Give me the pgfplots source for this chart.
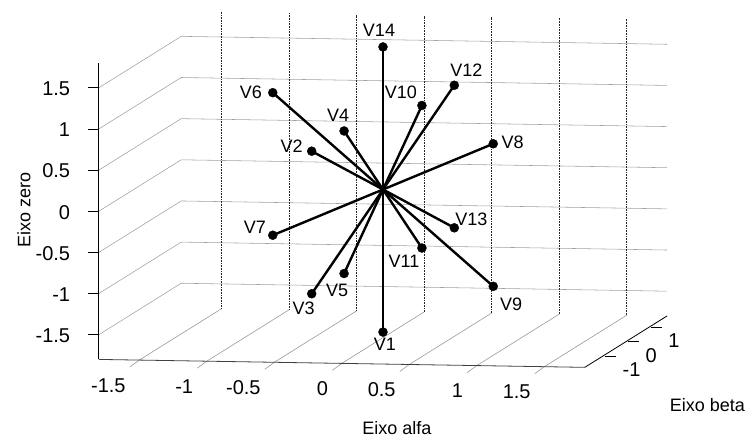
\documentclass[border=0pt]{standalone}
\usepackage{fontspec}
\setmainfont{Liberation Sans}
\usepackage{pgfplots}
\pgfplotsset{compat=1.18}
\tikzset{lab/.style={font=\fontsize{18}{22}\selectfont, inner sep=0pt}, ztk/.style={black, line width=0.8pt}}
\pgfplotsset{vec/.style={black, line width=2.4pt, mark=*, mark indices={2}, mark size=4.5pt, mark options={solid, line width=0.4pt, fill=black}}}
\begin{document}
\begin{tikzpicture}
\begin{axis}[
  x={(135pt,-2.2pt)}, y={(22.9pt,14.3pt)}, z={(0pt,82.3pt)},
  xmin=-1.8,xmax=1.8,ymin=-1.8,ymax=1.8,zmin=-1.8,zmax=1.8,
  xtick={-1.5,-1,-0.5,0,0.5,1,1.5},
  ytick={-1,0,1},
  ztick={-1.5,-1,-0.5,0,0.5,1,1.5},
  /pgf/number format/assume math mode=true,
  ticklabel style={font=\fontsize{20}{24}\selectfont},
  axis line style={draw=none},
  zmajorgrids,
  z grid style={gray!75, line width=0.55pt},
  tick style={draw=none},
  tick align=outside,
  major tick length=12pt,
  clip=false,
  xticklabel style={anchor=east, xshift=0pt, yshift=-19pt},
  yticklabel style={anchor=west, xshift=4pt, yshift=-13.5pt},
  zticklabel style={anchor=east, xshift=-15pt, yshift=5.5pt},
]
\coordinate (O) at (axis cs:0,0,0);
\pgfplotsinvokeforeach{-1.5,-1,-0.5,0,0.5,1,1.5}{
  \draw[gray!80, line width=0.6pt] (axis cs:#1,1.8,-1.8) -- (axis cs:#1,-1.8,-1.8) -- ++(-9.5pt,-7pt);
  \draw[black!85, dash pattern=on 0.8pt off 0.8pt, line width=0.6pt] (axis cs:#1,1.8,-1.8) -- (axis cs:#1,1.8,1.8);
}
\pgfplotsinvokeforeach{-1,0,1}{
  \draw[black, line width=0.8pt] (axis cs:1.8,#1,-1.8) ++(2pt,0pt) -- ++(11pt,0pt);
}
\draw[black, line width=0.8pt] (axis cs:-1.8,-1.8,-1.8) -- (axis cs:-1.8,-1.8,1.8);
\draw[black!75, line width=0.8pt] (axis cs:-1.8,-1.8,-1.8) -- (axis cs:1.8,-1.8,-1.8);
\draw[black, line width=0.8pt] (axis cs:1.8,-1.8,-1.8) -- (axis cs:1.8,1.8,-1.8);

\addplot3[vec] coordinates {(0,0,0) (0,0,-1.7321)} node[lab, pos=1, xshift=2pt, yshift=-12pt]{V1};
\addplot3[vec] coordinates {(0,0,0) (-0.4082,-0.7071,0.5774)} node[lab, pos=1, xshift=-20pt, yshift=5pt]{V2};
\addplot3[vec] coordinates {(0,0,0) (-0.4082,-0.7071,-1.1547)} node[lab, pos=1, xshift=-8pt, yshift=-15pt]{V3};
\addplot3[vec] coordinates {(0,0,0) (-0.4082,0.7071,0.5774)} node[lab, pos=1, xshift=-6pt, yshift=16pt]{V4};
\addplot3[vec] coordinates {(0,0,0) (-0.4082,0.7071,-1.1547)} node[lab, pos=1, xshift=-7pt, yshift=-17pt]{V5};
\addplot3[vec] coordinates {(0,0,0) (-0.8165,0,1.1547)} node[lab, pos=1, xshift=-22pt, yshift=0pt]{V6};
\addplot3[vec] coordinates {(0,0,0) (-0.8165,0,-0.5774)} node[lab, pos=1, xshift=-18pt, yshift=8pt]{V7};
\addplot3[vec] coordinates {(0,0,0) (0.8165,0,0.5774)} node[lab, pos=1, xshift=19.5pt, yshift=1.5pt]{V8};
\addplot3[vec] coordinates {(0,0,0) (0.8165,0,-1.1547)} node[lab, pos=1, xshift=18pt, yshift=-18pt]{V9};
\addplot3[vec] coordinates {(0,0,0) (0.4082,-0.7071,1.1547)} node[lab, pos=1, xshift=-21pt, yshift=13pt]{V10};
\addplot3[vec] coordinates {(0,0,0) (0.4082,-0.7071,-0.5774)} node[lab, pos=1, xshift=-18pt, yshift=-13pt]{V11};
\addplot3[vec] coordinates {(0,0,0) (0.4082,0.7071,1.1547)} node[lab, pos=1, xshift=12pt, yshift=15pt]{V12};
\addplot3[vec] coordinates {(0,0,0) (0.4082,0.7071,-0.5774)} node[lab, pos=1, xshift=17pt, yshift=9pt]{V13};
\addplot3[vec] coordinates {(0,0,0) (0,0,1.7321)} node[lab, pos=1, xshift=-4pt, yshift=17pt]{V14};
\end{axis}
\draw[ztk] ([shift={(-284.2pt,101.65pt)}]O) -- ++(-11pt,0pt);
\draw[ztk] ([shift={(-284.2pt,60.5pt)}]O) -- ++(-11pt,0pt);
\draw[ztk] ([shift={(-284.2pt,19.35pt)}]O) -- ++(-11pt,0pt);
\draw[ztk] ([shift={(-284.2pt,-21.8pt)}]O) -- ++(-11pt,0pt);
\draw[ztk] ([shift={(-284.2pt,-62.95pt)}]O) -- ++(-11pt,0pt);
\draw[ztk] ([shift={(-284.2pt,-104.1pt)}]O) -- ++(-11pt,0pt);
\draw[ztk] ([shift={(-284.2pt,-145.25pt)}]O) -- ++(-11pt,0pt);
\node[font=\fontsize{18}{22}\selectfont] at ([shift={(14pt,-238.5pt)}]O) {Eixo alfa};
\node[font=\fontsize{18}{22}\selectfont] at ([shift={(324.5pt,-215.5pt)}]O) {Eixo beta};
\node[font=\fontsize{18}{22}\selectfont, rotate=90] at ([shift={(-359pt,-20.5pt)}]O) {Eixo zero};
\pgfresetboundingbox
\path[use as bounding box] ([shift={(-383pt,-250.5pt)}]O) rectangle ([shift={(367pt,189.5pt)}]O);
\end{tikzpicture}
\end{document}
